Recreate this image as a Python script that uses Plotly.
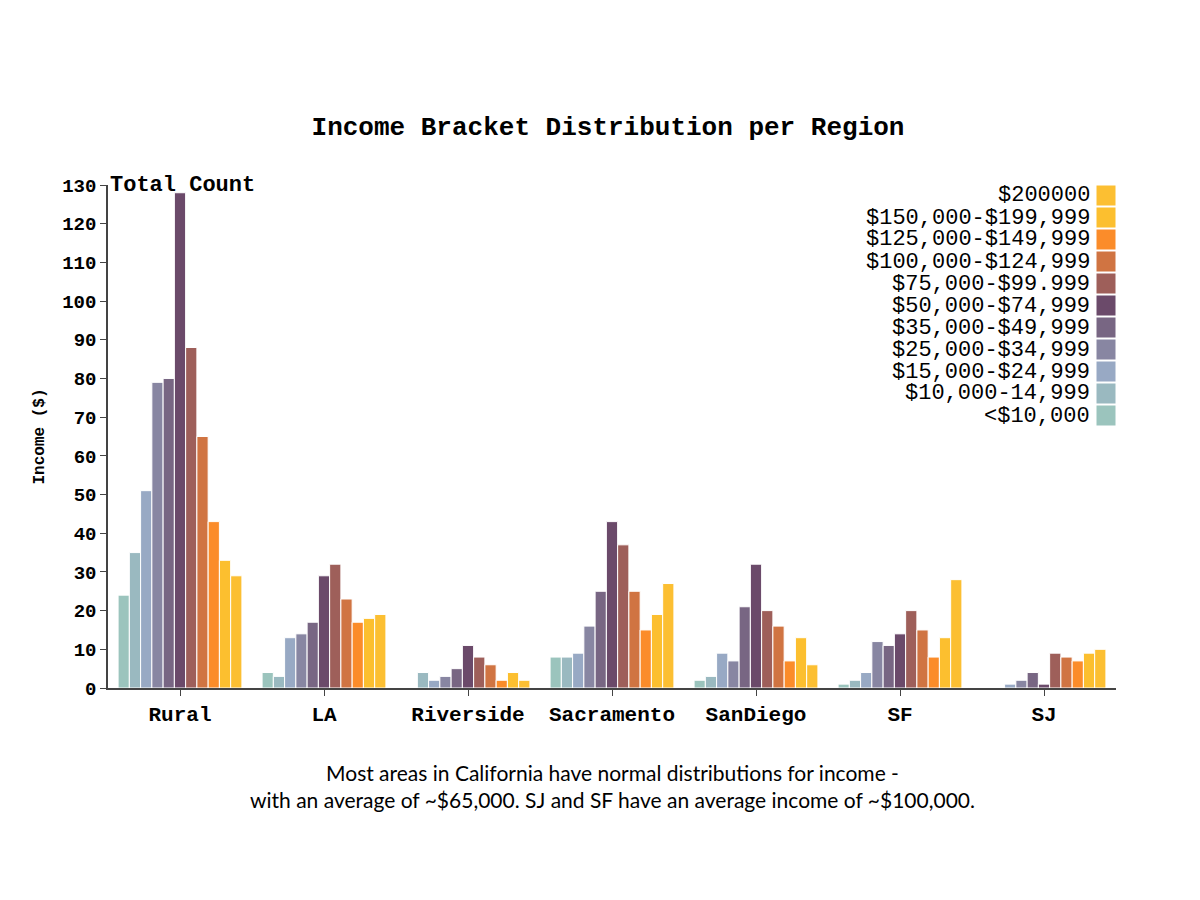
import plotly.graph_objects as go

regions = ["Rural", "LA", "Riverside", "Sacramento", "SanDiego", "SF", "SJ"]
brackets = ["<$10,000", "$10,000-14,999", "$15,000-$24,999", "$25,000-$34,999",
            "$35,000-$49,999", "$50,000-$74,999", "$75,000-$99.999",
            "$100,000-$124,999", "$125,000-$149,999", "$150,000-$199,999", "$200000"]
colors = ["#9bc4bd", "#9ab9c0", "#98a9c4", "#8886a2", "#786683", "#6b4a6a",
          "#9e5f5a", "#d07442", "#fb8c2a", "#fcbf2f", "#fcbf32"]
counts = {
    "Rural":      [24, 35, 51, 79, 80, 128, 88, 65, 43, 33, 29],
    "LA":         [4, 3, 13, 14, 17, 29, 32, 23, 17, 18, 19],
    "Riverside":  [0, 4, 2, 3, 5, 11, 8, 6, 2, 4, 2],
    "Sacramento": [8, 8, 9, 16, 25, 43, 37, 25, 15, 19, 27],
    "SanDiego":   [2, 3, 9, 7, 21, 32, 20, 16, 7, 13, 6],
    "SF":         [1, 2, 4, 12, 11, 14, 20, 15, 8, 13, 28],
    "SJ":         [0, 0, 1, 2, 4, 1, 9, 8, 7, 9, 10],
}

mono = "Liberation Mono, Courier New, monospace"

fig = go.Figure()
for i, b in enumerate(brackets):
    fig.add_trace(go.Bar(
        x=regions, y=[counts[r][i] for r in regions], name=b,
        marker=dict(color=colors[i], line=dict(color="white", width=1)),
        showlegend=False,
    ))

# hand-made legend: label right-aligned, swatch on the right
n = len(brackets)
for k, b in enumerate(reversed(brackets)):
    c = colors[n - 1 - k]
    y0 = 1 - k * 22 / 503
    fig.add_shape(type="rect", xref="paper", yref="paper",
                  x0=1 - 20 / 1008, x1=1, y0=y0 - 21 / 503, y1=y0,
                  fillcolor=c, line=dict(color="white", width=1))
    fig.add_annotation(xref="paper", yref="paper", x=1 - 24 / 1008, y=y0 - 11 / 503,
                       text=b, showarrow=False, xanchor="right", yanchor="middle",
                       font=dict(family=mono, size=22, color="black"))

fig.add_annotation(xref="paper", yref="paper", x=0, y=1, text="<b>Total Count</b>",
                   showarrow=False, xanchor="left", yanchor="middle",
                   font=dict(family=mono, size=22, color="black"))
fig.add_annotation(xref="paper", yref="paper", x=0.5, y=-0.14,
                   text="Most areas in California have normal distributions for income -<br>"
                        "with an average of ~$65,000. SJ and SF have an average income of ~$100,000.",
                   showarrow=False, xanchor="center", yanchor="top",
                   font=dict(family="Lato, Noto Sans, sans-serif", size=21, color="black"))

fig.update_layout(
    width=1200, height=900,
    margin=dict(l=100, r=92, t=177, b=220),
    paper_bgcolor="white", plot_bgcolor="white",
    barmode="group", bargap=0.14, bargroupgap=0,
    title=dict(text="<b>Income Bracket Distribution per Region</b>", x=0.5, xanchor="center",
               y=1 - 118 / 900, yanchor="middle",
               font=dict(family=mono, size=26, color="black")),
)
fig.update_xaxes(showline=True, linecolor="#444", linewidth=1.5, ticks="outside",
                 tickcolor="#444", ticklen=6, showgrid=False,
                 tickfont=dict(family=mono, size=21, color="black", weight="bold"))
fig.update_yaxes(range=[0, 130], dtick=10, showline=True, linecolor="#444", linewidth=1.5,
                 ticks="outside", tickcolor="#444", ticklen=6, showgrid=False, zeroline=False,
                 tickfont=dict(family=mono, size=19, color="black", weight="bold"),
                 title=dict(text="<b>Income ($)</b>", standoff=14,
                            font=dict(family=mono, size=16, color="black")))

fig.write_html("out.html")
